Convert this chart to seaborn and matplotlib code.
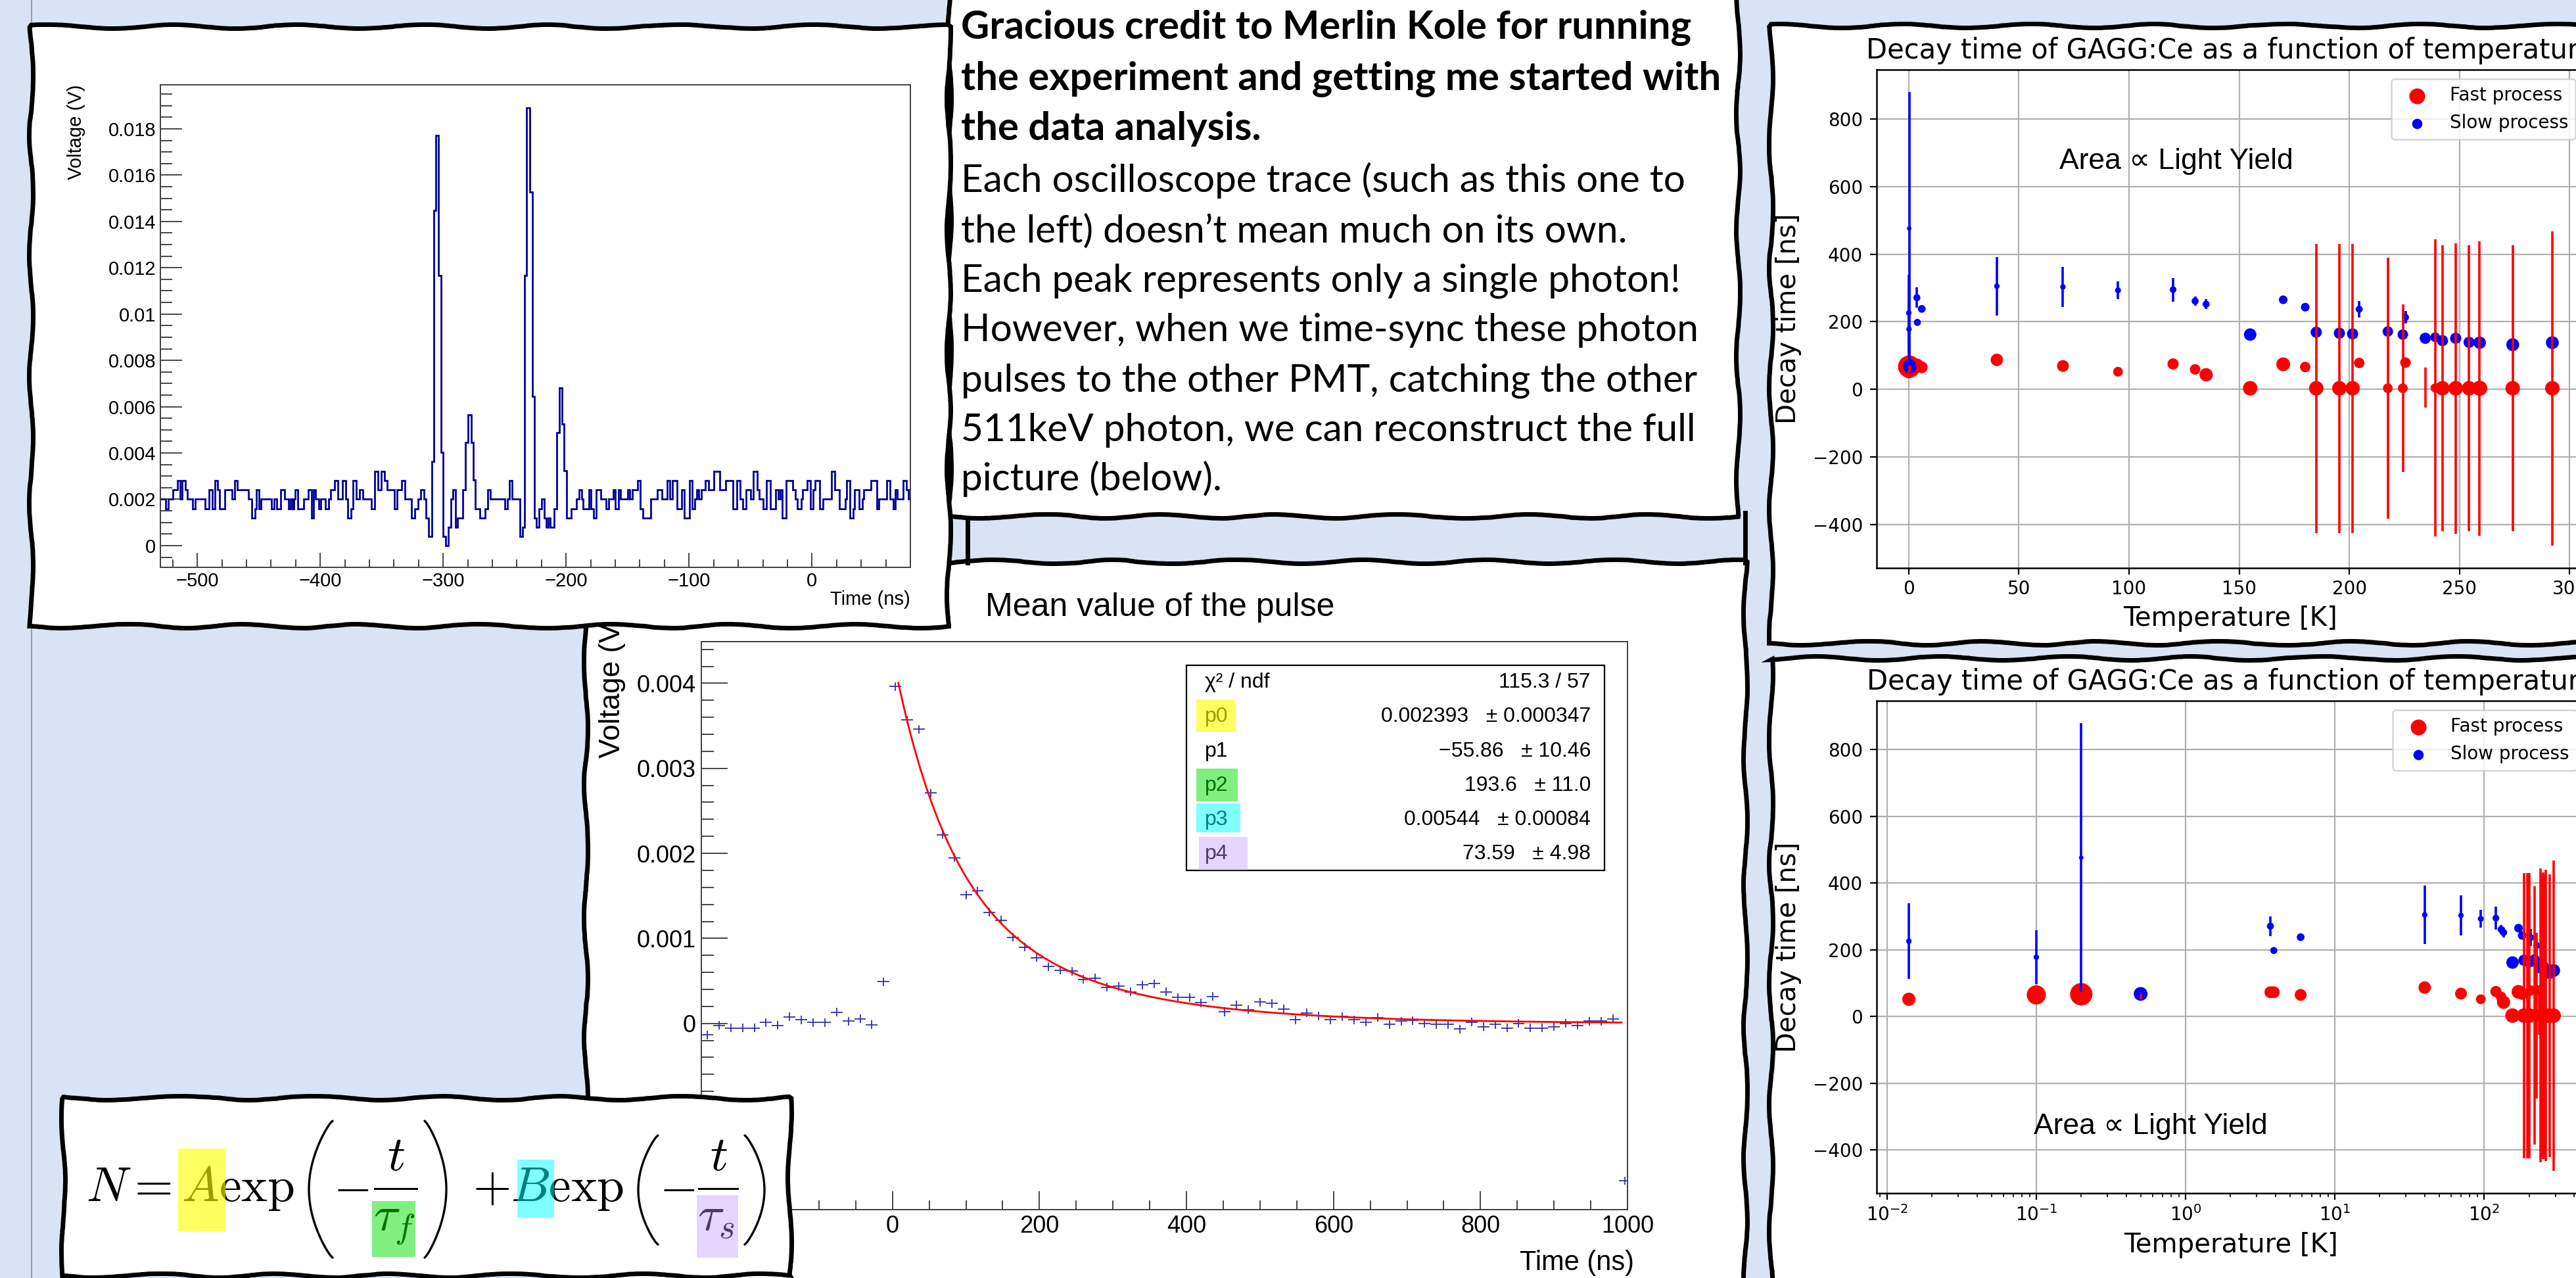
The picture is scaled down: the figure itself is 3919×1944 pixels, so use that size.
import numpy as np
import matplotlib
matplotlib.use("Agg")
import matplotlib.pyplot as plt
import seaborn as sns
from matplotlib.patches import Rectangle
from matplotlib.lines import Line2D
from matplotlib.ticker import MultipleLocator, FuncFormatter

W, H = 3919, 1944

# ---------------- data ----------------
# single oscilloscope trace: step edges (ns) and levels (mV)
trace_t = [-530.0, -525.9, -523.8, -520.0, -516.1, -513.8, -512.2, -509.9, -507.9, -504.0,
           -501.8, -493.8, -490.2, -487.9, -485.8, -483.5, -481.7, -477.8, -471.5, -469.7,
           -467.6, -458.1, -455.8, -453.2, -451.9, -449.8, -448.3, -439.8, -437.6, -435.3,
           -432.3, -429.1, -425.7, -424.3, -422.5, -421.6, -420.2, -418.0, -413.2, -409.5,
           -407.3, -405.5, -403.8, -401.4, -399.3, -395.7, -393.1, -391.3, -388.1, -385.4,
           -381.8, -379.2, -377.6, -375.2, -373.5, -370.8, -368.1, -365.4, -358.3, -355.6,
           -353.3, -350.3, -347.6, -345.8, -339.6, -337.4, -333.9, -331.0, -325.7, -323.2,
           -320.3,
           -318.3, -315.7, -313.9, -311.8, -309.4, -307.7, -305.9, -303.6, -301.8, -300.0,
           -297.8, -295.7, -293.7, -292.0, -289.8, -288.1, -283.9, -281.8, -279.7, -277.3,
           -275.6, -274.1, -270.2, -265.8, -264.0, -261.7, -249.7, -247.6, -246.1, -244.0,
           -237.8, -235.4, -233.7, -232.2, -229.7, -227.4, -226.0, -224.4, -222.1, -220.0,
           -217.6, -216.4, -214.6, -213.2, -209.6, -207.5, -205.7, -203.2, -201.6, -199.8,
           -195.7, -191.4, -189.6, -187.3, -186.1, -181.6, -179.6, -177.9, -175.4, -171.8,
           -167.7, -165.4, -161.8, -160.0, -157.5, -155.7, -149.9, -148.1, -146.3, -141.8,
           -139.7, -137.7, -131.1,
           -125.8, -122.2, -117.8, -115.6, -113.3, -109.8, -105.8, -104.0, -99.4, -97.3,
           -95.1, -93.7, -91.9, -90.1, -86.6, -83.9, -79.8, -75.0, -70.2, -64.3,
           -61.3, -58.4, -56.3, -53.6, -50.0, -47.9, -44.7, -42.9, -39.9, -37.2,
           -34.0, -29.5, -27.4, -26.0, -24.2, -21.0, -15.6, -13.5, -11.7, -9.0,
           -7.8, -3.7, -1.5, 1.1, 2.6, 6.1, 8.8, 16.0, 18.3, 22.2,
           27.2, 28.4, 30.7, 33.4, 34.3, 38.2, 40.9, 41.8, 48.0, 52.5,
           54.6, 60.5, 63.2, 65.9, 67.7, 69.4, 73.9, 76.6, 78.4, 80.0]
trace_mv = [2.0, 1.6, 2.0, 2.4, 2.8, 2.0, 2.8, 2.4, 2.0, 1.6,
            2.0, 1.6, 2.4, 1.6, 2.8, 2.4, 1.6, 2.4, 2.0, 2.8,
            2.4, 2.0, 1.2, 1.6, 2.4, 1.6, 2.0, 1.6, 2.0, 1.6,
            2.4, 2.0, 1.6, 2.0, 1.6, 2.0, 2.4, 1.6, 2.0, 2.4,
            1.2, 2.4, 2.0, 1.6, 2.0, 1.6, 2.0, 2.4, 2.8, 2.0,
            2.8, 2.0, 1.2, 1.6, 2.8, 2.0, 2.4, 2.0, 1.6, 3.2,
            2.4, 3.2, 2.8, 2.4, 1.6, 2.4, 2.8, 2.0, 1.2, 1.6,
            2.0,
            2.4, 2.0, 1.2, 0.4, 3.63, 14.48, 17.71, 11.67, 4.02, 0.4,
            0.0, 0.8, 2.0, 2.4, 0.8, 1.2, 2.4, 4.46, 5.65, 4.46,
            2.84, 1.6, 1.2, 1.6, 2.4, 2.0, 1.6, 2.0, 2.8, 2.0,
            0.4, 0.8, 11.67, 18.9, 15.28, 6.45, 1.2, 0.8, 1.6, 2.0,
            1.2, 0.8, 1.2, 0.8, 1.6, 4.87, 6.82, 5.24, 3.22, 1.2,
            1.6, 2.0, 2.4, 2.0, 1.6, 2.4, 1.6, 1.2, 2.4, 2.0,
            1.6, 2.0, 2.4, 1.6, 2.4, 2.0, 2.4, 2.0, 2.4, 2.8,
            1.6, 1.2, 2.0,
            2.4, 2.0, 2.8, 2.0, 2.8, 1.6, 2.4, 1.2, 2.8, 1.6,
            2.0, 2.4, 2.0, 2.4, 2.8, 2.4, 3.2, 2.4, 2.8, 1.6,
            2.8, 2.0, 1.6, 2.4, 2.0, 3.2, 2.4, 2.0, 1.6, 2.8,
            1.6, 2.4, 2.0, 2.4, 1.2, 2.8, 2.4, 2.0, 1.6, 2.0,
            2.4, 2.8, 1.6, 2.4, 2.8, 1.6, 2.0, 3.2, 2.4, 1.6,
            2.0, 2.8, 1.2, 1.6, 2.4, 1.6, 2.0, 2.4, 2.8, 1.6,
            2.0, 2.8, 2.0, 1.6, 2.4, 2.0, 2.8, 2.4, 2.0]

# mean pulse (16 ns bins)
mean_t = np.arange(-252, 1000, 16)
mean_v = [-0.000136, -0.000022, -0.000054, -0.000054, -0.000054, 0.000011, -0.000022, 0.000076,
          0.000044, 0.000011, 0.000011, 0.000131, 0.000027, 0.000054, -0.000016, 0.00049,
          0.003962, 0.003570, 0.003461, 0.002710, 0.002220, 0.001948, 0.001513, 0.001556, 0.001306, 0.001214,
          0.001012, 0.000898, 0.000773, 0.000669, 0.000626, 0.000615, 0.000517, 0.000533, 0.000424, 0.000435,
          0.000370, 0.000452, 0.000468, 0.000370, 0.000305, 0.000305, 0.000245, 0.000316, 0.000136, 0.000218,
          0.000163, 0.000250, 0.000234, 0.000169, 0.000044, 0.000125, 0.000087, 0.000044, 0.000082, 0.000044,
          0.000016, 0.000071, -0.000011, 0.000027, 0.000033, 0.0, -0.000011, -0.000011, -0.000065, 0.000016,
          -0.000038, -0.000011, -0.000054, 0.0, -0.000054, -0.000054, -0.000038, 0.0, -0.000022, 0.000027,
          0.000027, 0.000054, -0.00185]
mean_err = 0.00005
par_names = ["p0", "p1", "p2", "p3", "p4"]
par_vals = ["0.002393", "\u221255.86", "193.6", "0.00544", "73.59"]
par_errs = ["0.000347", "10.46", "11.0", "0.00084", "4.98"]
chi2_ndf = "115.3 / 57"

# decay time vs temperature
temp_k = [0.014, 0.1, 0.2, 0.5, 3.7, 3.9, 5.9, 40, 70, 95, 120, 130, 135, 155, 170, 180,
          185, 195.5, 201.5, 204.5, 217.5, 224.3, 225.5, 234.5, 239, 242.3, 248.3, 254.4,
          259.2, 274.2, 292.2]
fast_tau = [52, 65, 67, 60, 73, 73, 65, 87, 69, 52, 75, 59, 43, 3, 74, 66,
            3, 3, 3, 78, 3, 3, 79, 5, 4, 3, 3, 3, 3, 3, 3]
fast_err = [4, 4, 4, 8, 4, 4, 4, 4, 4, 4, 4, 4, 4, 4, 4, 4,
            428, 428, 428, 4, 387, 248, 4, 60, 440, 424, 430, 424, 436, 424, 465]
fast_yield = [35, 73, 100, 9, 28, 28, 28, 31, 28, 19, 25, 22, 35, 42, 38, 22,
              42, 42, 42, 22, 19, 19, 22, 0, 17, 42, 42, 42, 46, 42, 42]
slow_tau = [226, 178, 476, 68, 271, 198, 238, 305, 303, 293, 295, 261, 252, 162, 265, 243,
            169, 166, 164, 237, 171, 162, 213, 151, 154, 144, 151, 139, 138, 132, 138]
slow_err = [113, 80, 403, 10, 30, 5, 8, 87, 60, 26, 35, 14, 15, 5, 8, 12,
            8, 6, 6, 25, 6, 6, 18, 5, 6, 6, 6, 5, 5, 5, 5]
slow_yield = [6, 6, 4, 38, 10, 10, 12, 6, 6, 7, 9, 10, 10, 31, 15, 15,
              25, 25, 25, 10, 22, 22, 10, 25, 19, 25, 25, 25, 31, 33, 33]
AREA_PER_YIELD = 6.0

text_bold = ["Gracious credit to Merlin Kole for running",
             "the experiment and getting me started with",
             "the data analysis."]
text_body = ["Each oscilloscope trace (such as this one to",
             "the left) doesn\u2019t mean much on its own.",
             "Each peak represents only a single photon!",
             "However, when we time-sync these photon",
             "pulses to the other PMT, catching the other",
             "511keV photon, we can reconstruct the full",
             "picture (below)."]

# ---------------- helpers ----------------
fig = plt.figure(figsize=(W / 100, H / 100), dpi=100, facecolor="#dae3f3")
renderer = fig.canvas.get_renderer()


def fx(x):
    return np.asarray(x) / W


def fy(y):
    return 1 - np.asarray(y) / H


def box(l, t, r, b):
    return [l / W, 1 - b / H, (r - l) / W, (b - t) / H]


def rect(l, t, r, b, **kw):
    p = Rectangle((l / W, 1 - b / H), (r - l) / W, (b - t) / H,
                  transform=fig.transFigure, **kw)
    fig.add_artist(p)
    return p


def frame(l, t, r, b, z):
    p = rect(l, t, r, b, facecolor="white", edgecolor="black", lw=5, zorder=z)
    p.set_sketch_params(scale=3, length=260, randomness=4)


def hl(l, t, r, b, color, alpha, z):
    rect(l, t, r, b, facecolor=color, edgecolor="none", alpha=alpha, zorder=z)


def line_px(xs, ys, z, **kw):
    fig.add_artist(Line2D(fx(xs), fy(ys), transform=fig.transFigure, zorder=z, **kw))


def root_fmt(v, pos):
    v = round(v, 10)
    if v == 0:
        return "0"
    return f"{v:g}".replace("-", "\u2212")


def root_fmt_pos(v, pos):
    # negative labels of the pulse plot sit under the formula box
    return root_fmt(v, pos) if round(v, 10) >= 0 else ""


def root_axes(ax, xmaj, xmin, ymaj, ymin, lsize, ylen, xlen, pad, fmt=root_fmt):
    ax.xaxis.set_major_locator(MultipleLocator(xmaj))
    ax.xaxis.set_minor_locator(MultipleLocator(xmin))
    ax.yaxis.set_major_locator(MultipleLocator(ymaj))
    ax.yaxis.set_minor_locator(MultipleLocator(ymin))
    ax.xaxis.set_major_formatter(FuncFormatter(fmt))
    ax.yaxis.set_major_formatter(FuncFormatter(fmt))
    ax.tick_params(which="both", direction="in", top=False, right=False,
                   labelsize=lsize, labelfontfamily="Liberation Sans",
                   color="0.15", width=1.2, pad=pad)
    ax.tick_params(axis="y", which="major", length=ylen[0])
    ax.tick_params(axis="y", which="minor", length=ylen[1])
    ax.tick_params(axis="x", which="major", length=xlen[0])
    ax.tick_params(axis="x", which="minor", length=xlen[1])
    for sp in ax.spines.values():
        sp.set_linewidth(1.4)
        sp.set_color("0.25")
    ax.set_facecolor("white")


ROOT = ["Liberation Sans", "DejaVu Sans"]

# page line on the far left
line_px([48, 48], [0, H], 0.5, color="#8fa0bb", lw=1.5)

# ---------------- right panels: decay time vs temperature ----------------
frame(2694, 39, 3975, 978, 1)
frame(2694, 1001, 3975, 1995, 1)

ax_top = fig.add_axes(box(2855, 106, 3932, 864), zorder=1.5)
ax_bot = fig.add_axes(box(2855, 1066, 3934, 1815), zorder=1.5)
for ax, logx in [(ax_top, False), (ax_bot, True)]:
    sns.scatterplot(x=temp_k, y=fast_tau, s=np.array(fast_yield) * AREA_PER_YIELD,
                    color="red", linewidth=0, ax=ax, label="Fast process")
    sns.scatterplot(x=temp_k, y=slow_tau, s=np.array(slow_yield) * AREA_PER_YIELD,
                    color="blue", linewidth=0, ax=ax, label="Slow process")
    ax.errorbar(temp_k, slow_tau, yerr=slow_err, fmt="none", ecolor="blue", elinewidth=2.6)
    ax.errorbar(temp_k, fast_tau, yerr=fast_err, fmt="none", ecolor="red", elinewidth=2.6)
    if logx:
        ax.set_xscale("log")
    ax.set_facecolor("white")
    ax.grid(True, color="#b0b0b0", lw=1.6)
    ax.set_axisbelow(True)
    for sp in ax.spines.values():
        sp.set_linewidth(1.8)
    ax.tick_params(labelsize=20, length=7, width=1.6, pad=8)
    ax.tick_params(axis="x", pad=6)
    ax.tick_params(which="minor", length=4, width=1.2)
    ax.set_title("Decay time of GAGG:Ce as a function of temperature", fontsize=30, pad=12)
    ax.set_xlabel("Temperature [K]", fontsize=29, labelpad=8)
    ax.set_ylabel("Decay time [ns]", fontsize=29, labelpad=12)
    leg = ax.legend(loc="upper right", fontsize=20, borderaxespad=0.5)
    leg.get_frame().set_linewidth(1.8)

fig.text(fx(3133), fy(245), "Area \u221d Light Yield", fontsize=32, family=ROOT,
         va="center", ha="left", zorder=1.8)
fig.text(fx(3094), fy(1713), "Area \u221d Light Yield", fontsize=32, family=ROOT,
         va="center", ha="left", zorder=1.8)

# ---------------- middle panel: mean pulse ----------------
frame(891, 854, 2655, 1995, 2)
for xl in (1472, 2655):
    line_px([xl, xl], [780, 856], 2, color="black", lw=5)

ax2 = fig.add_axes(box(1067, 976, 2476, 1840), zorder=2.5)
ax2.errorbar(mean_t, mean_v, xerr=8, yerr=mean_err, fmt="none", ecolor="#3030b0", elinewidth=1.3)
t_fit = np.linspace(8, 992, 400)
p = [float(v.replace("\u2212", "-")) for v in par_vals]
f_fit = p[0] * np.exp(-(t_fit - p[1]) / p[2]) + p[3] * np.exp(-(t_fit - p[1]) / p[4])
sns.lineplot(x=t_fit, y=f_fit, color="red", linewidth=2.0, estimator=None, ax=ax2)
ax2.set_xlim(-260, 1000)
ax2.set_ylim(-0.00219, 0.00449)
root_axes(ax2, 200, 50, 0.001, 0.0002, 26, (29, 14), (20, 10), 6, fmt=root_fmt_pos)
ax2.set_xlabel("")
ax2.set_ylabel("")

fig.text(fx(1499), fy(924), "Mean value of the pulse", fontsize=36, family=ROOT,
         va="center", ha="left", zorder=2.6)
fig.text(fx(931), fy(1153), "Voltage (V)", fontsize=32, family=ROOT, rotation=90,
         va="bottom", ha="center", zorder=2.6)
fig.text(fx(2486), fy(1921), "Time (ns)", fontsize=30, family=ROOT,
         va="center", ha="right", zorder=2.6)

# stats box
rect(1805, 1012, 2441, 1324, facecolor="white", edgecolor="black", lw=1.6, zorder=2.7)
rows_y = [1038, 1090, 1143, 1195, 1247, 1299]
fig.text(fx(1833), fy(rows_y[0]), "\u03c7\u00b2 / ndf", fontsize=23, family=ROOT,
         va="center", ha="left", zorder=2.8)
fig.text(fx(2420), fy(rows_y[0]), chi2_ndf, fontsize=23, family=ROOT,
         va="center", ha="right", zorder=2.8)
for name, v, e, y in zip(par_names, par_vals, par_errs, rows_y[1:]):
    fig.text(fx(1833), fy(y), name, fontsize=23, family=ROOT, va="center", ha="left", zorder=2.8)
    fig.text(fx(2420), fy(y), f"{v}   \u00b1 {e}", fontsize=23, family=ROOT,
             va="center", ha="right", zorder=2.8)
hl(1820, 1064, 1879, 1113, "#ffff00", 0.62, 2.9)
hl(1820, 1169, 1883, 1219, "#00e000", 0.5, 2.9)
hl(1820, 1222, 1887, 1266, "#00ffff", 0.5, 2.9)
hl(1824, 1273, 1898, 1324, "#be96ff", 0.4, 2.9)

# ---------------- text box ----------------
frame(1444, -30, 2644, 785, 3)
baselines = [59, 137, 213, 292, 368, 444, 519, 595, 671, 746]
txts = []
for i, line in enumerate(text_bold + text_body):
    wgt = "bold" if i < len(text_bold) else "normal"
    txts.append(fig.text(fx(1462), fy(baselines[i]), line, fontsize=30, family="Lato",
                         weight=wgt, va="baseline", ha="left", zorder=3.5))
wb = txts[1].get_window_extent(renderer).width
wr = txts[7].get_window_extent(renderer).width
for i, t in enumerate(txts):
    t.set_fontsize(30 * (1155 / wb if i < len(text_bold) else 1119 / wr))

# ---------------- top-left panel: oscilloscope trace ----------------
frame(47, 40, 1443, 952, 4)
ax1 = fig.add_axes(box(244, 129, 1385, 863), zorder=4.5)
ax1.stairs(np.array(trace_mv) / 1000, trace_t, baseline=None, color="#000099", lw=2.0)
ax1.set_xlim(-530, 80)
ax1.set_ylim(-0.00094, 0.0199)
root_axes(ax1, 100, 20, 0.002, 0.0005, 21, (24, 13), (16, 8.6), 5)
fig.text(fx(116), fy(129), "Voltage (V)", fontsize=21, family=ROOT, rotation=90,
         va="top", ha="center", zorder=4.6)
fig.text(fx(1385), fy(912), "Time (ns)", fontsize=21, family=ROOT,
         va="center", ha="right", zorder=4.6)

# ---------------- formula box ----------------
frame(96, 1670, 1201, 1940, 5)


def mtext(x, y, s, size, ha="left"):
    return fig.text(fx(x), fy(y), s, fontsize=size, math_fontfamily="cm",
                    va="baseline", ha=ha, zorder=5.5)


def paren(xl, xr, top, bot, opening):
    s = np.linspace(-1, 1, 80)
    bulge = (xr - xl) * np.cos(s * np.pi / 2) ** 0.8
    xs = xr - bulge if opening else xl + bulge
    ys = (top + bot) / 2 + s * (bot - top) / 2
    line_px(xs, ys, 5.5, color="black", lw=2.4, solid_capstyle="round")


head = mtext(131, 1827, r"$N=A\exp$", 48)
fs = 48 * (448 - 131) / head.get_window_extent(renderer).width
head.set_fontsize(fs)
paren(470, 506, 1705, 1913, True)
mtext(534, 1827, r"$-$", fs, ha="center")
mtext(602, 1780, r"$t$", fs, ha="center")
line_px([570, 634], [1808, 1808], 5.5, color="black", lw=2.1)
mtext(600, 1872, r"$\tau_f$", fs, ha="center")
paren(646, 679, 1705, 1913, False)
mtext(719, 1827, r"$+B\exp$", fs)
paren(971, 1001, 1727, 1893, True)
mtext(1030, 1827, r"$-$", fs, ha="center")
mtext(1093, 1780, r"$t$", fs, ha="center")
line_px([1063, 1122], [1808, 1808], 5.5, color="black", lw=2.1)
mtext(1090, 1872, r"$\tau_s$", fs, ha="center")
paren(1133, 1163, 1727, 1893, False)

hl(271, 1747, 343, 1873, "#ffff00", 0.62, 5.6)
hl(787, 1764, 843, 1852, "#00ffff", 0.5, 5.6)
hl(566, 1827, 632, 1912, "#00e000", 0.5, 5.6)
hl(1060, 1818, 1123, 1913, "#be96ff", 0.4, 5.6)

fig.savefig("out.png", dpi=100, facecolor=fig.get_facecolor())
